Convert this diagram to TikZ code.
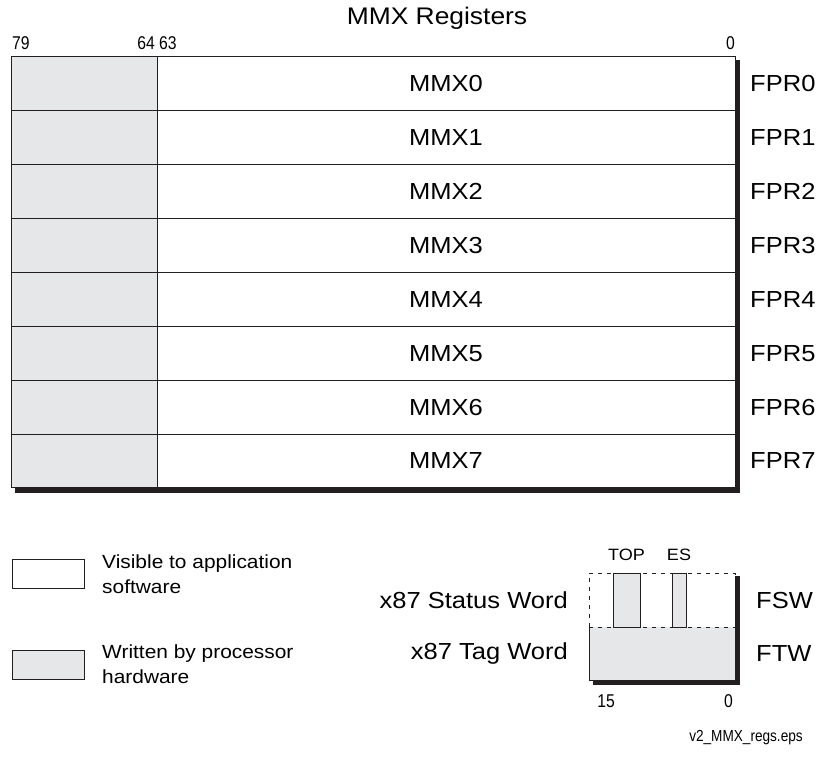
\documentclass[tikz,border=0pt]{standalone}
\usepackage{fontspec}
\setmainfont{Liberation Sans}[FakeStretch=1.1]
\newfontfamily\numfont{Liberation Sans}[FakeStretch=0.85]
\usepackage{tikz}
\usetikzlibrary{positioning, calc}
\definecolor{mxGray}{RGB}{230,231,232}
\definecolor{mxInk}{RGB}{35,31,32}

\begin{document}
\begin{tikzpicture}[x=1pt,y=-1pt,
  G/.style={draw=mxInk,line width=0.9pt,fill=mxGray,outer sep=0pt,inner sep=0pt,
            minimum width=146pt,minimum height=53.9pt},
  W/.style={draw=mxInk,line width=0.9pt,fill=white,outer sep=0pt,inner sep=0pt,
            minimum width=578pt,minimum height=53.9pt,
            font=\fontsize{23.2}{27}\selectfont},
  L/.style={inner sep=0pt,font=\fontsize{23.2}{27}\selectfont},
  N/.style={inner sep=0pt,font=\numfont\fontsize{18.5}{20}\selectfont},
  K/.style={draw=mxInk,line width=0.9pt,outer sep=0pt,inner sep=0pt,
            minimum width=72pt,minimum height=29pt},
  S/.style={draw=mxInk,line width=4.5pt}]

\useasboundingbox (0,0) rectangle (818,756);

\node[font=\fontsize{24}{28}\selectfont] (title) at (437,18) {MMX Registers};
\node[N,anchor=west] (b79) at (12,43.5) {79};
\node[N] (b64) at (157,43.5) {64 63};
\node[N,anchor=east] (b0) at (735,43.5) {0};

% register rows
\node[G,anchor=north west] (g0) at (11,56.7) {};
\node[W,right=0pt of g0] (m0) {MMX0};
\node[L,right=15pt of m0] (f0) {FPR0};
\node[G,below=0pt of g0] (g1) {};
\node[W,right=0pt of g1] (m1) {MMX1};
\node[L,right=15pt of m1] (f1) {FPR1};
\node[G,below=0pt of g1] (g2) {};
\node[W,right=0pt of g2] (m2) {MMX2};
\node[L,right=15pt of m2] (f2) {FPR2};
\node[G,below=0pt of g2] (g3) {};
\node[W,right=0pt of g3] (m3) {MMX3};
\node[L,right=15pt of m3] (f3) {FPR3};
\node[G,below=0pt of g3] (g4) {};
\node[W,right=0pt of g4] (m4) {MMX4};
\node[L,right=15pt of m4] (f4) {FPR4};
\node[G,below=0pt of g4] (g5) {};
\node[W,right=0pt of g5] (m5) {MMX5};
\node[L,right=15pt of m5] (f5) {FPR5};
\node[G,below=0pt of g5] (g6) {};
\node[W,right=0pt of g6] (m6) {MMX6};
\node[L,right=15pt of m6] (f6) {FPR6};
\node[G,below=0pt of g6] (g7) {};
\node[W,right=0pt of g7] (m7) {MMX7};
\node[L,right=15pt of m7] (f7) {FPR7};

\draw[S] ([xshift=3pt,yshift=-3.5pt]m0.north east) |- ([xshift=4pt,yshift=-2.5pt]g7.south west);

% legend
\node[K,anchor=north west] (kv) at (12,559.3) {};
\node[K,fill=mxGray,anchor=north west] (kw) at (12,650) {};
\node[inner sep=0pt,align=left,font=\fontsize{19}{25}\selectfont,right=18pt of kv]
  (tv) {Visible to application\\software};
\node[inner sep=0pt,align=left,font=\fontsize{19}{25}\selectfont,right=18pt of kw]
  (tw) {Written by processor\\hardware};

% status and tag words
\node[fill=mxGray,outer sep=0pt,minimum width=146pt,minimum height=53pt,
      anchor=north west] (ftw) at (589,627) {};
\node[G,minimum width=27pt,minimum height=54pt,anchor=south west] (topbar) at (613,627) {};
\node[G,minimum width=14pt,minimum height=54pt,anchor=south west] (esbar) at (672,627) {};
\node[draw=mxInk,line width=0.9pt,dash pattern=on 4pt off 5pt,outer sep=0pt,
      minimum width=146pt,minimum height=54pt,anchor=south west] (fsw) at (ftw.north west) {};
\draw[draw=mxInk,line width=0.9pt] (ftw.north west) |- (ftw.south east) -- (ftw.north east);
\draw[S] ([xshift=2.5pt,yshift=-3pt]fsw.north east) |- ([xshift=4pt,yshift=-2.5pt]ftw.south west);

\node[inner sep=0pt,font=\fontsize{16.4}{18}\selectfont,above=12pt of topbar] (ltop) {TOP};
\node[inner sep=0pt,font=\fontsize{16.4}{18}\selectfont,above=12pt of esbar] (les) {ES};
\node[L,left=21pt of fsw] (lsw) {x87 Status Word};
\node[L,left=21pt of ftw] (ltw) {x87 Tag Word};
\node[L,right=21pt of fsw] (nsw) {FSW};
\node[L,right=21pt of ftw] (ntw) {FTW};
\node[N] (b15) at (606,701.5) {15};
\node[N] (bz) at (728.5,701.5) {0};

\node[N,font=\numfont\fontsize{16}{18}\selectfont] (eps) at (746,738) {v2\_MMX\_regs.eps};
\end{tikzpicture}
\end{document}
